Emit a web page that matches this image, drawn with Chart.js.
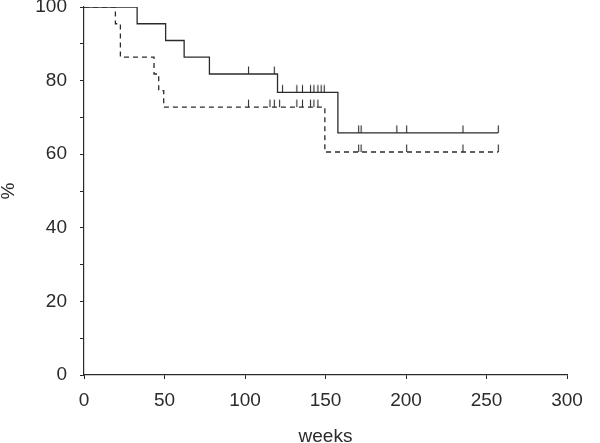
<!DOCTYPE html>
<html>
<head>
<meta charset="utf-8">
<script src="https://cdn.jsdelivr.net/npm/chart.js@4/dist/chart.umd.min.js"></script>
<style>
  html, body { margin: 0; padding: 0; background: #fff; }
  #wrap { width: 600px; height: 443px; }
</style>
</head>
<body>
<div id="wrap"><canvas id="km"></canvas></div>
<script>
// survival curves (weeks, %)
const solidTimes = [0, 33, 50.7, 62.2, 77.9, 120.2, 157.7, 257.3];
const solidSurv = [100, 95.45, 90.9, 86.4, 81.8, 76.8, 65.8, 65.8];
const solidCensored = [102.2, 118.2, 123.3, 132.2, 135.7, 140.7, 142.8, 145.3, 147.3, 149.2,
    170.6, 172.1, 194.3, 200.4, 235.4, 257.3];

const dashedTimes = [0, 19.5, 22.6, 43.5, 46.4, 49.5, 149.6, 257.3];
const dashedSurv = [100, 95.45, 86.4, 81.8, 77.3, 72.8, 60.6, 60.6];
const dashedCensored = [102.2, 115.5, 118.2, 121.5, 132.2, 135.7, 140.7, 142.8, 145.3,
    170.6, 172.1, 200.4, 235.4, 257.3];

const xTicks = [0, 50, 100, 150, 200, 250, 300];
const yTicks = [0, 20, 40, 60, 80, 100];

const ink = '#2b2b2b';
const fontFamily = '"Liberation Sans", Arial, sans-serif';

function survAt(times, surv, t) {
    let s = surv[0];
    for (let i = 0; i < times.length; i++) {
        if (times[i] <= t) s = surv[i];
    }
    return s;
}

function toPoints(times, surv) {
    return times.map((t, i) => ({ x: t, y: surv[i] }));
}

function censorPoints(censored, times, surv) {
    return censored.map(t => ({ x: t, y: survAt(times, surv, t) }));
}

// small vertical mark that sits on top of the curve
function censorMark() {
    const c = document.createElement('canvas');
    c.width = 3;
    c.height = 18;
    const g = c.getContext('2d');
    g.strokeStyle = ink;
    g.lineWidth = 1.1;
    g.beginPath();
    g.moveTo(1.5, 1.5);
    g.lineTo(1.5, 9);
    g.stroke();
    return c;
}

const mark = censorMark();

const ctx = document.getElementById('km').getContext('2d');
new Chart(ctx, {
    type: 'line',
    data: {
        datasets: [{
            data: toPoints(solidTimes, solidSurv),
            stepped: 'before',
            borderColor: ink,
            borderWidth: 1.3,
            pointRadius: 0,
            fill: false
        }, {
            data: toPoints(dashedTimes, dashedSurv),
            stepped: 'before',
            borderColor: ink,
            borderWidth: 1.3,
            borderDash: [5, 4],
            pointRadius: 0,
            fill: false
        }, {
            data: censorPoints(solidCensored, solidTimes, solidSurv),
            showLine: false,
            pointStyle: mark,
            pointRadius: 4
        }, {
            data: censorPoints(dashedCensored, dashedTimes, dashedSurv),
            showLine: false,
            pointStyle: mark,
            pointRadius: 4
        }]
    },
    options: {
        responsive: true,
        maintainAspectRatio: false,
        animation: false,
        layout: {
            padding: { top: 7, right: 33, left: 0, bottom: 0 }
        },
        plugins: {
            legend: { display: false },
            tooltip: { enabled: false }
        },
        scales: {
            x: {
                type: 'linear',
                min: 0,
                max: 300,
                afterBuildTicks: scale => {
                    scale.ticks = xTicks.map(v => ({ value: v }));
                },
                afterFit: scale => {
                    scale.height = 68;
                },
                ticks: {
                    color: ink,
                    padding: 10,
                    font: { family: fontFamily, size: 19 }
                },
                grid: {
                    display: true,
                    drawOnChartArea: false,
                    color: ink,
                    tickLength: 4
                },
                border: { display: true, color: ink, width: 1.2 },
                title: {
                    display: true,
                    text: 'weeks',
                    color: ink,
                    padding: { top: 0, bottom: -5 },
                    font: { family: fontFamily, size: 19 }
                }
            },
            y: {
                min: 0,
                max: 100,
                ticks: {
                    stepSize: 10,
                    color: ink,
                    padding: 13,
                    font: { family: fontFamily, size: 19 },
                    callback: v => (yTicks.includes(v) ? v : '')
                },
                afterFit: scale => {
                    scale.width = 84;
                    scale.paddingTop = 0;
                    scale.paddingBottom = 0;
                },
                grid: {
                    display: true,
                    drawOnChartArea: false,
                    color: ink,
                    tickLength: 4
                },
                border: { display: true, color: ink, width: 1.2 },
                title: {
                    display: true,
                    text: '%',
                    color: ink,
                    padding: { top: -3, bottom: 0 },
                    font: { family: fontFamily, size: 19 }
                }
            }
        }
    }
});
</script>
</body>
</html>
